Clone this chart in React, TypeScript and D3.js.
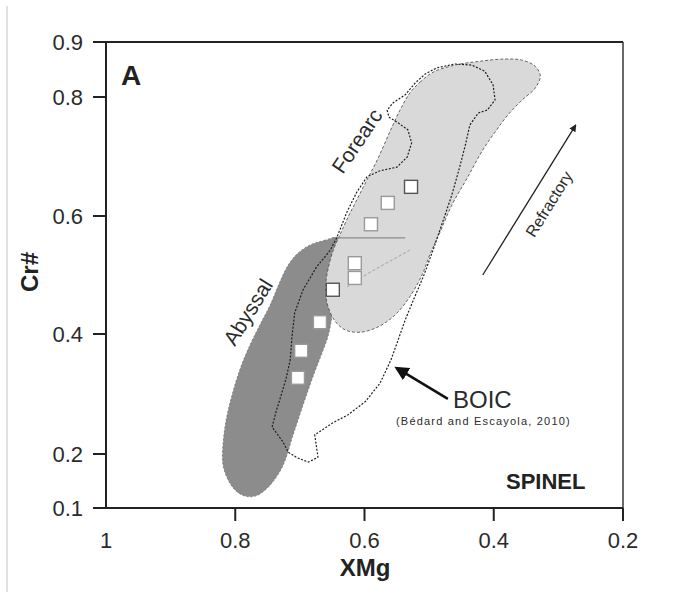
import React from "react";
import * as d3 from "d3";

const W = 678;
const H = 594;

// axis ticks
const xTicks = [1, 0.8, 0.6, 0.4, 0.2];
const yTicks = [0.9, 0.8, 0.6, 0.4, 0.2, 0.1];
const yTickLabels = ["0.9", "0.8", "0.6", "0.4", "0.2", "0.1"];
const xTickLabels = ["1", "0.8", "0.6", "0.4", "0.2"];

// Abyssal field [XMg, Cr#]
const abyssal: [number, number][] = [
  [0.641, 0.563], [0.661, 0.559], [0.684, 0.551], [0.703, 0.537], [0.718, 0.517],
  [0.731, 0.488], [0.746, 0.449], [0.762, 0.415], [0.777, 0.382], [0.793, 0.34],
  [0.805, 0.298], [0.814, 0.257], [0.819, 0.215], [0.819, 0.18], [0.811, 0.152],
  [0.8, 0.133], [0.785, 0.122], [0.769, 0.122], [0.754, 0.133], [0.742, 0.148],
  [0.728, 0.174], [0.72, 0.198], [0.712, 0.227], [0.704, 0.253], [0.695, 0.282],
  [0.686, 0.31], [0.677, 0.337], [0.667, 0.365], [0.656, 0.398], [0.65, 0.432],
  [0.644, 0.475], [0.639, 0.525],
];

// Forearc field
const forearc: [number, number][] = [
  [0.53, 0.807], [0.514, 0.827], [0.494, 0.845], [0.46, 0.858], [0.421, 0.865],
  [0.383, 0.869], [0.356, 0.867], [0.336, 0.856], [0.328, 0.838], [0.336, 0.816],
  [0.356, 0.795], [0.378, 0.77], [0.398, 0.741], [0.417, 0.711], [0.441, 0.664],
  [0.465, 0.618], [0.483, 0.573], [0.499, 0.534], [0.511, 0.5], [0.53, 0.463],
  [0.553, 0.432], [0.579, 0.412], [0.607, 0.403], [0.63, 0.407], [0.647, 0.424],
  [0.658, 0.453], [0.66, 0.483], [0.655, 0.517], [0.647, 0.546], [0.638, 0.568],
  [0.626, 0.597], [0.612, 0.627], [0.596, 0.661], [0.579, 0.697], [0.561, 0.741],
  [0.545, 0.778],
];

// Forearc internal lines
const forearcTopLine: [number, number][] = [[0.649, 0.563], [0.537, 0.563]];
const forearcInnerLine: [number, number][] = [[0.627, 0.48], [0.591, 0.505], [0.53, 0.542]];

// BOIC field (Bédard and Escayola, 2010)
const boic: [number, number][] = [
  [0.743, 0.245], [0.737, 0.27], [0.729, 0.298], [0.721, 0.327], [0.715, 0.357],
  [0.712, 0.398], [0.708, 0.436], [0.695, 0.475], [0.674, 0.514], [0.653, 0.542],
  [0.643, 0.563], [0.627, 0.607], [0.612, 0.64], [0.596, 0.666], [0.576, 0.676],
  [0.55, 0.682], [0.534, 0.699], [0.527, 0.723], [0.533, 0.745], [0.55, 0.758],
  [0.562, 0.766], [0.565, 0.778], [0.556, 0.79], [0.537, 0.804], [0.522, 0.825],
  [0.506, 0.842], [0.488, 0.853], [0.46, 0.86], [0.434, 0.858], [0.414, 0.847],
  [0.401, 0.822], [0.398, 0.795], [0.41, 0.778], [0.424, 0.773], [0.437, 0.753],
  [0.444, 0.719], [0.454, 0.677], [0.465, 0.635], [0.479, 0.59], [0.494, 0.542],
  [0.508, 0.5], [0.523, 0.461], [0.537, 0.424], [0.548, 0.39], [0.559, 0.357],
  [0.576, 0.318], [0.599, 0.287], [0.626, 0.265], [0.649, 0.252], [0.677, 0.232],
  [0.672, 0.194], [0.687, 0.185], [0.704, 0.193], [0.718, 0.203], [0.726, 0.22],
];

// Samples
const sampleX = [0.528, 0.564, 0.59, 0.615, 0.615, 0.649, 0.669, 0.698, 0.703];
const sampleY = [0.649, 0.622, 0.586, 0.52, 0.495, 0.475, 0.42, 0.372, 0.327];
const sampleDark = [true, false, false, false, false, true, false, false, false];

// annotations
const refractoryArrow: [number, number][] = [[0.417, 0.5], [0.273, 0.753]];
const boicArrow: [number, number][] = [[0.471, 0.292], [0.55, 0.343]];

export default function App() {
  const x = d3.scaleLinear().domain([1, 0.2]).range([106, 623]);
  const y = d3
    .scaleLinear()
    .domain([0.1, 0.2, 0.4, 0.6, 0.8, 0.9])
    .range([508, 454, 334, 216, 97, 42]);

  const smooth = d3
    .line<[number, number]>()
    .x((d) => x(d[0]))
    .y((d) => y(d[1]))
    .curve(d3.curveCatmullRomClosed.alpha(0.5));
  const closedLin = d3
    .line<[number, number]>()
    .x((d) => x(d[0]))
    .y((d) => y(d[1]))
    .curve(d3.curveLinearClosed);
  const lin = d3
    .line<[number, number]>()
    .x((d) => x(d[0]))
    .y((d) => y(d[1]));

  const font = "Liberation Sans, Arial, Helvetica, sans-serif";
  const txt = "#2b2b2b";
  const sq = 13;

  const ra0 = [x(refractoryArrow[0][0]), y(refractoryArrow[0][1])];
  const ra1 = [x(refractoryArrow[1][0]), y(refractoryArrow[1][1])];
  const raAng = (Math.atan2(ra1[1] - ra0[1], ra1[0] - ra0[0]) * 180) / Math.PI;
  const ba0 = [x(boicArrow[0][0]), y(boicArrow[0][1])];
  const ba1 = [x(boicArrow[1][0]), y(boicArrow[1][1])];

  return (
    <svg
      width={W}
      height={H}
      style={{ position: "absolute", left: 0, top: 0, background: "#fff" }}
      fontFamily={font}
    >
      <defs>
        <marker id="ahSmall" viewBox="0 0 10 10" refX="9" refY="5" markerWidth="5.5" markerHeight="5.5" orient="auto">
          <path d="M0,0 L10,5 L0,10 z" fill="#222" />
        </marker>
        <marker id="ahBig" viewBox="0 0 10 10" refX="8" refY="5" markerWidth="5.5" markerHeight="5.5" orient="auto">
          <path d="M0,0 L10,5 L0,10 z" fill="#111" />
        </marker>
      </defs>
      <rect x={0} y={0} width={W} height={H} fill="#fff" />
      {/* left page rule */}
      <line x1={7} x2={7} y1={6} y2={592} stroke="#c4c4c4" strokeWidth={1} />

      {/* fields */}
      <path d={smooth(abyssal) || ""} fill="#8c8c8c" stroke="#6e6e6e" strokeWidth={0.8} strokeDasharray="2,2" />
      <path d={smooth(forearc) || ""} fill="#d9d9d9" stroke="#555" strokeWidth={0.9} strokeDasharray="3,2" />
      <path d={lin(forearcTopLine) || ""} fill="none" stroke="#8a8a8a" strokeWidth={1.4} />
      <path d={lin(forearcInnerLine) || ""} fill="none" stroke="#9a9a9a" strokeWidth={0.9} strokeDasharray="3,2" />
      <path d={closedLin(boic) || ""} fill="none" stroke="#1e1e1e" strokeWidth={1.2} strokeDasharray="2,1.6" />

      {/* samples */}
      {sampleX.map((v, i) => (
        <rect
          key={i}
          x={x(v) - sq / 2}
          y={y(sampleY[i]) - sq / 2}
          width={sq}
          height={sq}
          fill="#fff"
          stroke={sampleDark[i] ? "#555" : "#9a9a9a"}
          strokeWidth={1.4}
        />
      ))}

      {/* frame */}
      <line x1={623} x2={623} y1={42} y2={521} stroke="#444" strokeWidth={1.6} />
      <line x1={93} x2={623} y1={42} y2={42} stroke="#222" strokeWidth={2} />
      <line x1={93} x2={623} y1={508} y2={508} stroke="#222" strokeWidth={2} />
      <line x1={106} x2={106} y1={42} y2={508} stroke="#222" strokeWidth={2} />

      {/* y ticks */}
      {yTicks.map((t, i) => (
        <g key={"y" + i}>
          <line x1={93} x2={106} y1={y(t)} y2={y(t)} stroke="#222" strokeWidth={2} />
          <text x={83} y={y(t)} dy="0.36em" textAnchor="end" fontSize={22} fill={txt}>
            {yTickLabels[i]}
          </text>
        </g>
      ))}
      {/* x ticks */}
      {xTicks.map((t, i) => (
        <g key={"x" + i}>
          {i > 0 && <line x1={x(t)} x2={x(t)} y1={508} y2={521} stroke="#222" strokeWidth={2} />}
          <text x={x(t)} y={548} textAnchor="middle" fontSize={22} fill={txt}>
            {xTickLabels[i]}
          </text>
        </g>
      ))}

      {/* axis titles */}
      <text x={365} y={576} textAnchor="middle" fontSize={24} fontWeight="bold" fill="#222">
        XMg
      </text>
      <text
        transform="translate(38,272) rotate(-90)"
        textAnchor="middle"
        fontSize={24}
        fontWeight="bold"
        fill="#222"
      >
        Cr#
      </text>

      {/* panel letter */}
      <text x={121} y={85} fontSize={28} fontWeight="bold" fill="#222">
        A
      </text>

      {/* field labels */}
      <text transform="translate(357,141) rotate(-56)" textAnchor="middle" dy="0.35em" fontSize={21} fill={txt}>
        Forearc
      </text>
      <text transform="translate(248,312) rotate(-58)" textAnchor="middle" dy="0.35em" fontSize={21} fill={txt}>
        Abyssal
      </text>

      {/* refractory arrow */}
      <line
        x1={ra0[0]}
        y1={ra0[1]}
        x2={ra1[0]}
        y2={ra1[1]}
        stroke="#222"
        strokeWidth={1.3}
        markerEnd="url(#ahSmall)"
      />
      <text
        transform={`translate(549,204) rotate(${raAng})`}
        textAnchor="middle"
        dy="0.35em"
        fontSize={16}
        fill={txt}
      >
        Refractory
      </text>

      {/* BOIC arrow & label */}
      <line
        x1={ba0[0]}
        y1={ba0[1]}
        x2={ba1[0]}
        y2={ba1[1]}
        stroke="#111"
        strokeWidth={2.6}
        markerEnd="url(#ahBig)"
      />
      <text x={453} y={408} fontSize={24} fill={txt}>
        BOIC
      </text>
      <text x={396} y={425} fontSize={11} letterSpacing={1.2} fill={txt}>
        (Bédard and Escayola, 2010)
      </text>

      <text x={506} y={489} fontSize={22} fontWeight="bold" fill="#222">
        SPINEL
      </text>
    </svg>
  );
}
